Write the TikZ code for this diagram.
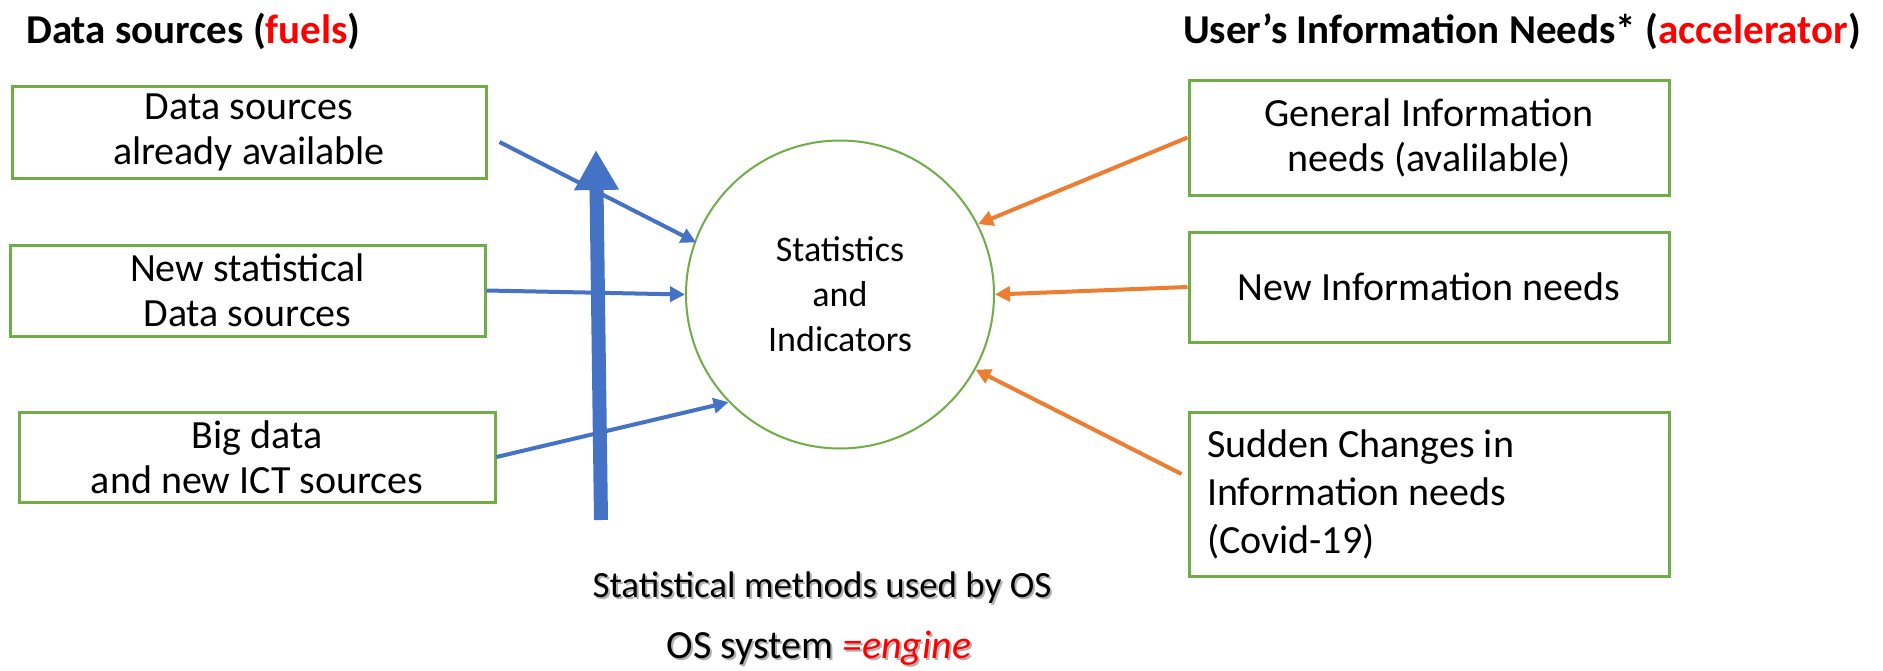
\documentclass[tikz,border=0pt]{standalone}
\usepackage{fontspec}
\setmainfont{Carlito}
\usetikzlibrary{arrows.meta}
\definecolor{boxgreen}{HTML}{70AD47}
\definecolor{arrblue}{HTML}{4472C4}
\definecolor{arrorange}{HTML}{ED7D31}
\definecolor{hired}{HTML}{FF0000}
\begin{document}
\begin{tikzpicture}[x=1pt,y=-1pt,
  box/.style={draw=boxgreen,line width=3pt,rectangle,inner sep=0pt,align=center,
    font=\fontsize{40}{45}\selectfont},
  titletext/.style={inner sep=0pt,anchor=base west,font=\bfseries\fontsize{41}{48}\selectfont},
  bluearr/.style={draw=arrblue,line width=4pt,-{Triangle[width=15pt,length=15pt,fill=arrblue]}},
  orangearr/.style={draw=arrorange,line width=4pt,-{Triangle[width=15pt,length=15pt,fill=arrorange]}},
  bigarr/.style={draw=arrblue,line width=14pt,-{Triangle[width=42pt,length=40pt,fill=arrblue]}},
  captext/.style={inner sep=0pt,font=\fontsize{37}{44}\selectfont},
  shadowtext/.style={captext,text=black!30}]
\useasboundingbox (0,0) rectangle (1883,670);
\fill[white] (0,0) rectangle (1883,670);

% titles
\node[titletext] (tl) at (26,43) {Data sources (\textcolor{hired}{fuels})};
\node[titletext] (tr) at (1183,43) {User’s Information Needs* (\textcolor{hired}{accelerator})};

% left boxes
\node[box,minimum width=474pt,minimum height=92pt] (b1) at (249,132) {Data sources\\already available};
\node[box,minimum width=475pt,minimum height=91pt] (b2) at (247.5,290.5) {New statistical\\Data sources};
\node[box,minimum width=476pt,minimum height=90pt] (b3) at (257,457) {Big data\\and new ICT sources};

% right boxes
\node[box,minimum width=480pt,minimum height=115pt] (r1) at (1429,137.5) {General Information\\needs (avalilable)};
\node[box,minimum width=480pt,minimum height=110pt] (r2) at (1429,287) {New Information needs};
\node[box,minimum width=480pt,minimum height=164pt,align=flush left,text width=444pt,
  font=\fontsize{40}{48}\selectfont] (r3) at (1429,494) {Sudden Changes in\\Information needs\\(Covid-19)};

% central circle
\node[circle,draw=boxgreen,line width=2pt,minimum size=308pt,inner sep=0pt,align=center,
  font=\fontsize{36}{45}\selectfont] (c) at (840,294.5) {Statistics\\and\\Indicators};

% thick arrow
\coordinate (tb) at (601,520);
\coordinate (tt) at (596,150);
\draw[bigarr] (tb) -- (tt);

% blue arrows
\draw[bluearr,shorten >=-2pt] ([shift={(12,10)}]b1.east) -- (c.160);
\draw[bluearr] (b2.east) -- (c.180);
\draw[bluearr] (b3.east) -- (c.224);

% orange arrows
\draw[orangearr] (r1.west) -- (c.27);
\draw[orangearr] (r2.west) -- (c.0);
\draw[orangearr] ([shift={(-6,-20)}]r3.west) -- (c.331);

% captions with shadow
\node[shadowtext] at (824,590) {Statistical methods used by OS};
\node[captext] (meth) at (822,588) {Statistical methods used by OS};
\node[shadowtext,font=\fontsize{40}{46}\selectfont] at (821,650) {OS system \textit{=engine}};
\node[captext,font=\fontsize{40}{46}\selectfont] (eng) at (819,648) {OS system \textcolor{hired}{\textit{=engine}}};
\end{tikzpicture}
\end{document}
